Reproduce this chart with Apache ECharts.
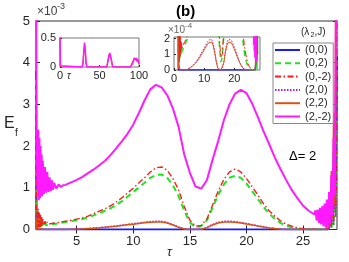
<!DOCTYPE html>
<html><head><meta charset="utf-8">
<script src="https://cdn.jsdelivr.net/npm/echarts@6/dist/echarts.min.js"></script>
<style>html,body{margin:0;padding:0;background:#fff}#c{width:349px;height:262px}</style>
</head><body><div id="c"></div><script>
// ---- data (E_f in units of 1e-3) ----
const tau = [
 1.4,1.45,1.5,1.55,1.6,1.65,1.7,1.75,1.8,1.85,1.9,1.95,2.0,2.1,2.2,2.3,2.4,2.5,2.6,2.7,2.8,2.9,3.0,3.2,3.4,3.6,3.8,4.0,
 4.5,5,5.5,6,6.5,7,7.5,8,8.5,9,9.5,10,10.5,11,11.5,12,12.5,13,13.5,14,14.5,15,15.5,16,16.5,17,17.5,18,18.5,19,19.5,20,20.5,21,21.5,22,22.5,23,23.5,24,24.5,25,25.5,26,
 26.1,26.2,26.3,26.4,26.5,26.6,26.7,26.8,26.9,27.0,27.1,27.2,27.3,27.4,27.5,27.6,27.7,27.8,27.9,28.0];
const ef00 = [
 3.8,0,0,0,0,0,0,0,0,0,0,0,0,0,0,0,0,0,0,0,0,0,0,0,0,0,0,0,
 0,0,0,0,0,0,0,0,0,0,0,0,0,0,0,0,0,0,0,0,0,0,0,0,0,0,0,0,0,0,0,0,0,0,0,0,0,0,0,0,0,0,0,0,0,0,
 0,0,0,0,0,0,0,0,0,0,0,0.1,0.4,1.2,0.5,2.5,1.0,4.2,1.6,9];
const ef02 = [
 3.6,0.05,0.4,0.03,0.35,0.05,0.3,0.05,0.25,0.07,0.2,0.08,0.18,0.09,0.15,0.1,0.13,0.11,0.12,0.12,0.12,0.13,0.13,0.14,0.15,0.16,0.17,0.18,
 0.2,0.22,0.25,0.29,0.34,0.39,0.45,0.51,0.59,0.68,0.79,0.9,1.01,1.12,1.24,1.31,1.32,1.24,1.06,0.8,0.45,0.17,0.05,0.08,0.22,0.52,0.83,1.08,1.24,1.29,1.24,1.1,0.92,0.73,0.54,0.38,0.26,0.16,0.09,0.05,0.02,0.01,0,0,
 0,0,0,0,0,0,0,0,0,0,0,0,0,0.2,0,0.5,0.1,1.2,0.3,5];
const ef0m2 = [
 3.0,0.1,0.45,0.05,0.5,0.05,0.4,0.06,0.35,0.08,0.3,0.08,0.25,0.1,0.2,0.12,0.18,0.13,0.16,0.14,0.15,0.15,0.16,0.16,0.17,0.18,0.19,0.2,
 0.22,0.25,0.28,0.32,0.38,0.44,0.5,0.57,0.66,0.76,0.88,0.99,1.12,1.24,1.38,1.48,1.5,1.42,1.22,0.95,0.55,0.22,0.08,0.1,0.25,0.58,0.92,1.2,1.38,1.45,1.38,1.22,1.03,0.83,0.62,0.45,0.32,0.21,0.13,0.08,0.04,0.02,0.01,0,
 0,0,0,0,0,0,0,0,0,0,0,0,0.1,0.3,0.1,0.6,0.2,1.5,0.5,6];
const ef20 = [
 0.4,0.02,0.05,0.01,0.04,0.01,0.03,0.01,0.02,0.01,0.02,0.01,0.01,0.01,0.01,0,0,0,0,0,0,0,0,0,0,0,0,0.002,
 0.005,0.01,0.017,0.025,0.035,0.045,0.058,0.072,0.088,0.105,0.122,0.14,0.158,0.175,0.19,0.198,0.195,0.17,0.12,0.06,0.015,0,0,0.005,0.05,0.12,0.17,0.195,0.2,0.19,0.17,0.145,0.118,0.09,0.064,0.042,0.024,0.01,0.003,0,0,0,0,0,
 0,0,0,0,0,0,0,0,0,0,0,0,0.05,0.2,0.05,0.4,0.1,1.0,0.3,4];
const ef22 = [
 0.3,0.01,0.03,0.01,0.03,0.01,0.02,0.01,0.02,0.01,0.01,0.01,0.01,0,0,0,0,0,0,0,0,0,0,0,0,0,0,0.002,
 0.004,0.009,0.015,0.022,0.031,0.041,0.052,0.065,0.08,0.096,0.112,0.128,0.145,0.16,0.173,0.18,0.178,0.155,0.108,0.052,0.012,0,0,0.004,0.045,0.108,0.155,0.177,0.182,0.173,0.155,0.132,0.107,0.082,0.058,0.038,0.022,0.009,0.002,0,0,0,0,0,
 0,0,0,0,0,0,0,0,0,0,0,0.2,0.6,0.1,1.4,0.3,2.8,0.6,6.5,9];
const ef2m2 = [
 8,2.3,1.4,0.9,2.4,0.7,2.2,0.75,2.0,0.8,1.8,0.8,1.65,0.85,1.5,0.88,1.38,0.9,1.25,0.92,1.18,0.95,1.12,0.98,1.08,1.02,1.06,1.07,
 1.13,1.19,1.26,1.35,1.44,1.54,1.65,1.79,1.95,2.12,2.3,2.52,2.8,3.1,3.36,3.47,3.41,3.22,2.9,2.46,1.8,1.36,1.03,0.98,1.18,1.67,2.12,2.62,3.0,3.26,3.35,3.27,3.02,2.7,2.36,2.05,1.73,1.45,1.19,0.95,0.75,0.57,0.45,0.36,
 0.46,0.22,0.48,0.16,0.52,0.12,0.56,0.08,0.62,0.06,0.72,0.05,0.9,0.15,1.3,0.35,2.2,0.8,5,9];
const seriesNames = ['(0,0)','(0,2)','(0,-2)','(2,0)','(2,2)','(2,-2)'];
const xTicks = [5,10,15,20,25];
const yTicks = [0,1,2,3,4,5];
// inset 1 (long time)
const in1Tau = [0,0.5,1,28,29,30,31,32,33,34,59,60,61,62,63,64,65,66,67,89,90,91,92,93,94,95,96,97,98,99,100];
const in1Mag = [0.6,0.02,0,0,0.06,0.25,0.42,0.3,0.08,0,0,0.05,0.12,0.2,0.24,0.2,0.12,0.04,0,0,0.02,0.04,0.07,0.1,0.14,0.16,0.11,0.15,0.09,0.13,0.06];
const in1Org = [0.55,0,0,0,0.05,0.22,0.38,0.27,0.06,0,0,0.06,0.14,0.21,0.22,0.2,0.14,0.05,0,0,0.03,0.06,0.09,0.12,0.16,0.13,0.17,0.1,0.14,0.08,0.05];
const in1XTicks = [0,50,100];
const in1YTicks = [0,0.5];
const in2XTicks = [0,10,20];
const in2YTicks = [0,1,2];

// ---- styles ----
const colors = ['#1a1aff','#1ee61e','#ff1a1a','#b420b4','#d95319','#ff1aff'];
const dashes = ['solid',[6,4],[6,2.5,1.5,2.5],[1.5,1.5],'solid','solid'];
const widths = [2,2,1.4,1.5,1.5,2];
const vals = [ef00, ef02, ef0m2, ef20, ef22, ef2m2];
const FONT = '"Liberation Sans", Arial, Helvetica, sans-serif';
const TXT = '#262626';

function pairs(xs, ys, k){ return xs.map((x,i)=>[x, ys[i]*k]); }

const series = [];
vals.forEach((v,i)=>{
  series.push({name: seriesNames[i], type:'line', xAxisIndex:0, yAxisIndex:0, data: pairs(tau, v, 1),
    symbol:'none', clip:true, z:2, lineStyle:{color:colors[i], width:widths[i], type:dashes[i]}, itemStyle:{color:colors[i]}});
});
vals.forEach((v,i)=>{
  series.push({name:'in2'+i, type:'line', xAxisIndex:3, yAxisIndex:3, data: pairs(tau, v, 10),
    symbol:'none', clip:true, z:7, lineStyle:{color:colors[i], width:Math.max(1,widths[i]-0.5), type:dashes[i]}, itemStyle:{color:colors[i]}});
});
series.push({name:'in1o', type:'line', xAxisIndex:2, yAxisIndex:2, data: pairs(in1Tau, in1Org, 1), symbol:'none', clip:true, z:7, lineStyle:{color:'#d95319', width:1.2}});
series.push({name:'in1m', type:'line', xAxisIndex:2, yAxisIndex:2, data: pairs(in1Tau, in1Mag, 1), symbol:'none', clip:true, z:7, lineStyle:{color:'#ff1aff', width:1.5}});

const tickIn = (len, cv) => ({show:true, inside:true, length:len, lineStyle:{color:TXT, width:1}, customValues: cv});
const lab = (size, cv, margin) => ({show:true, fontSize:size, color:TXT, fontFamily:FONT, margin:margin, customValues: cv});

const chart = echarts.init(document.getElementById('c'), null, {renderer:'canvas'});
chart.setOption({
  animation:false,
  backgroundColor:'#fff',
  grid:[
    {left:36, top:21, width:301, height:208.5, show:true, borderColor:'#333', borderWidth:1, backgroundColor:'#fff', z:0, containLabel:false},
    {left:60, top:38, width:79, height:29, show:true, borderColor:'#777', borderWidth:1, backgroundColor:'#fff', z:5, containLabel:false},
    {left:174, top:37, width:86, height:33, show:true, borderColor:'#777', borderWidth:1, backgroundColor:'#fff', z:5, containLabel:false}
  ],
  xAxis:[
    {gridIndex:0, type:'value', min:1.4, max:28, position:'bottom', axisLine:{show:false}, splitLine:{show:false},
      axisTick: tickIn(4, xTicks), axisLabel: lab(13, xTicks, 5)},
    {gridIndex:0, type:'value', min:1.4, max:28, position:'top', axisLine:{show:false}, splitLine:{show:false},
      axisTick: tickIn(4, xTicks), axisLabel:{show:false}},
    {gridIndex:1, type:'value', min:0, max:100, position:'bottom', axisLine:{show:false}, splitLine:{show:false}, z:6,
      axisTick: tickIn(2, in1XTicks), axisLabel: lab(11, in1XTicks, 3)},
    {gridIndex:2, type:'value', min:0, max:28.5, position:'bottom', axisLine:{show:false}, splitLine:{show:false}, z:6,
      axisTick: tickIn(2, in2XTicks), axisLabel: lab(11, in2XTicks, 3)}
  ],
  yAxis:[
    {gridIndex:0, type:'value', min:0, max:5, interval:1, position:'left', axisLine:{show:false}, splitLine:{show:false},
      axisTick: tickIn(4, yTicks), axisLabel: lab(13, yTicks, 6)},
    {gridIndex:0, type:'value', min:0, max:5, interval:1, position:'right', axisLine:{show:false}, splitLine:{show:false},
      axisTick: tickIn(4, yTicks), axisLabel:{show:false}},
    {gridIndex:1, type:'value', min:0, max:0.5, interval:0.5, position:'left', axisLine:{show:false}, splitLine:{show:false}, z:6,
      axisTick: tickIn(2, in1YTicks), axisLabel: lab(11, in1YTicks, 4)},
    {gridIndex:2, type:'value', min:0, max:2.1, position:'left', axisLine:{show:false}, splitLine:{show:false}, z:6,
      axisTick: tickIn(2, in2YTicks), axisLabel: lab(11, in2YTicks, 4)}
  ],
  legend:{
    data: seriesNames, orient:'vertical', left:273, top:43, padding:[1.5,2,1.5,1],
    itemWidth:25, itemHeight:10, itemGap:2.3, backgroundColor:'#fff', borderColor:'#888', borderWidth:1,
    itemStyle:{color:'rgba(0,0,0,0)', borderWidth:0, opacity:0},
    textStyle:{fontSize:11, lineHeight:11, color:TXT, fontFamily:FONT}, selectedMode:false, z:8
  },
  graphic:[
    {type:'text', left:176, top:4, z:100, style:{text:'(b)', font:'bold 15px '+FONT, fill:'#000'}},
    {type:'text', left:37, top:6, z:100, style:{text:'\u00d710', font:'12px '+FONT, fill:'#404040'}},
    {type:'text', left:57, top:2, z:100, style:{text:'-3', font:'9px '+FONT, fill:'#404040'}},
    {type:'text', left:168, top:25, z:100, style:{text:'\u00d710', font:'10px '+FONT, fill:'#666'}},
    {type:'text', left:185, top:22, z:100, style:{text:'-4', font:'8px '+FONT, fill:'#666'}},
    {type:'text', left:4, top:116, z:100, style:{text:'E', font:'16px '+FONT, fill:TXT}},
    {type:'text', left:15, top:128, z:100, style:{text:'f', font:'10px '+FONT, fill:TXT}},
    {type:'text', left:167, top:246, z:100, style:{text:'\u03c4', font:'italic 13px '+FONT, fill:TXT}},
    {type:'text', left:67, top:71, z:100, style:{text:'\u03c4', font:'italic 10px '+FONT, fill:TXT}},
    {type:'text', left:289, top:150, z:100, style:{text:'\u0394= 2', font:'13px '+FONT, fill:'#000'}},
    {type:'text', left:301, top:27, z:100, style:{text:'(\u03bb', font:'10px '+FONT, fill:TXT}},
    {type:'text', left:310.5, top:32, z:100, style:{text:'2', font:'7px '+FONT, fill:TXT}},
    {type:'text', left:314.5, top:27, z:100, style:{text:',J)', font:'10px '+FONT, fill:TXT}}
  ],
  series: series
});
</script></body></html>
